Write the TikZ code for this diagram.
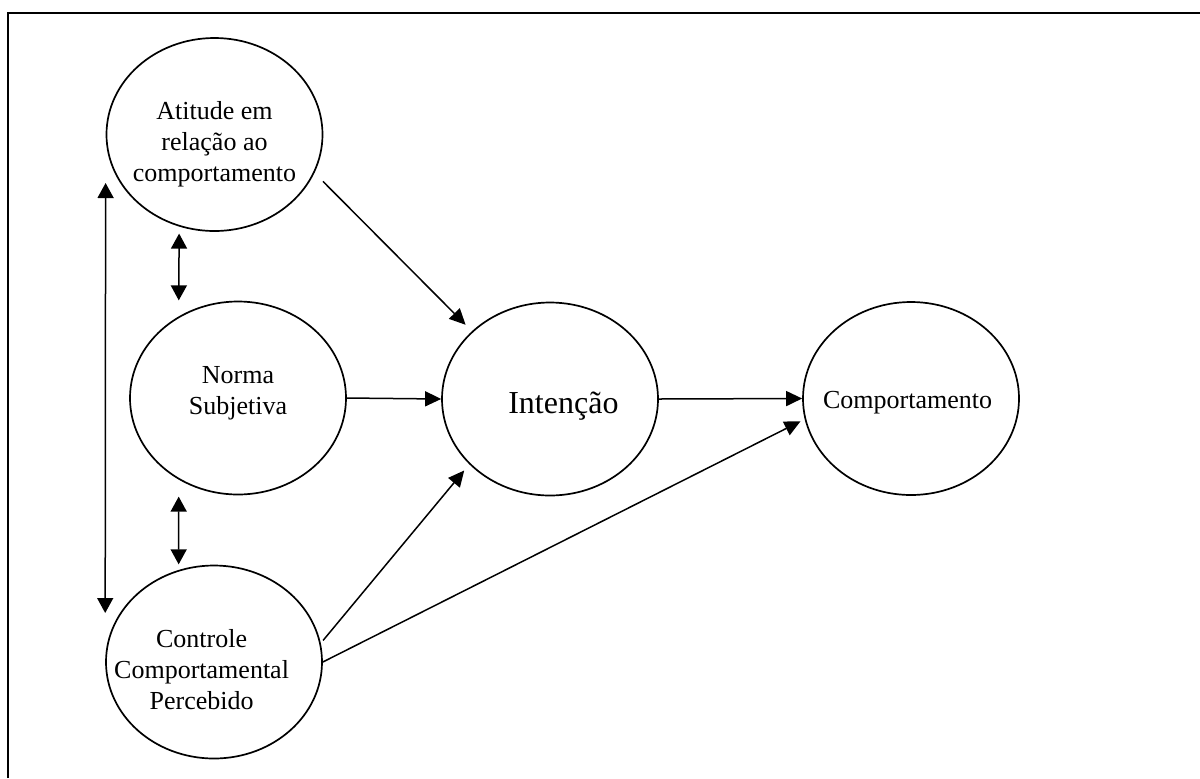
\documentclass[tikz,border=0pt]{standalone}
\usepackage{fontspec}
\setmainfont{Liberation Serif}
\usetikzlibrary{positioning,arrows.meta,shapes.geometric}

\begin{document}
\begin{tikzpicture}[
    x=0.5pt, y=-0.5pt,
    every node/.style={font=\fontsize{13}{15.5}\selectfont},
    construto/.style={ellipse, draw, line width=0.85pt, minimum width=108pt, minimum height=96.5pt, inner sep=0pt},
    rotulo/.style={align=center},
    seta/.style={-{Triangle[length=8pt, width=7.5pt]}, line width=0.75pt},
    setaDupla/.style={{Triangle[length=7.5pt, width=8pt]}-{Triangle[length=7.5pt, width=8pt]}, line width=0.75pt}
]
    \useasboundingbox (0,0) rectangle (1200,778);

    % Moldura (so o topo e o lado esquerdo aparecem)
    \draw[line width=1pt] (8,778) -- (8,13) -- (1200,13);

    % Construtos do modelo
    \node[construto, label={[rotulo, yshift=-5pt]center:Atitude em\\relação ao\\comportamento}] (atitude) at (214.5, 134.5) {};
    \node[construto, label={[rotulo, yshift=2.4pt]center:Norma\\Subjetiva}] (norma) at (238, 398) {};
    \node[construto, label={[rotulo, xshift=-6.2pt, yshift=-3.9pt]center:Controle\\Comportamental\\Percebido}] (controle) at (214, 662) {};
    \node[construto, label={[rotulo, font=\fontsize{16}{19}\selectfont, xshift=6.7pt, yshift=-3.5pt]center:Intenção}] (intencao) at (550, 399) {};
    \node[construto, label={[rotulo, xshift=-1.7pt, yshift=-2.3pt]center:Comportamento}] (comport) at (911, 398.5) {};

    % Setas para a intencao e o comportamento
    \draw[seta, shorten <=6pt, shorten >=4.5pt] (atitude.-21.5) -- (intencao.139.4);
    \draw[seta] (norma.east) -- (intencao.west);
    \draw[seta, shorten <=1.8pt, shorten >=4pt] (controle.10.8) -- (intencao.219.9);
    \draw[seta, shorten >=2.3pt] (controle.east) -- (comport.191.7);
    \draw[seta] (intencao.east) -- (comport.west);

    % Correlacoes entre os antecedentes
    \draw[setaDupla, shorten <=3.5pt, shorten >=8pt] (atitude.-111.9) -- (norma.126.8);
    \draw[setaDupla, shorten <=8.5pt, shorten >=2.8pt] (norma.-126.8) -- (controle.111.7);
    \draw[setaDupla, shorten <=24.25pt, shorten >=24.5pt] (atitude.west) -- (controle.west);
\end{tikzpicture}
\end{document}
